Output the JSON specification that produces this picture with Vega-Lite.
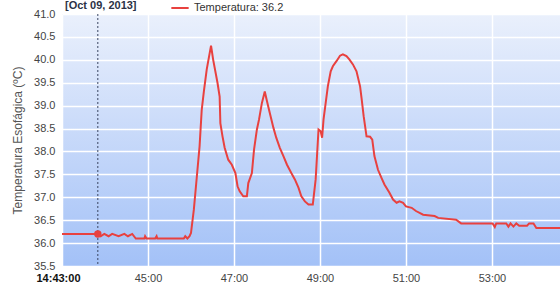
{
  "$schema": "https://vega.github.io/schema/vega-lite/v6.json",
  "width": 498,
  "height": 252,
  "autosize": "none",
  "padding": {"left": 62, "top": 14, "right": 0, "bottom": 19},
  "background": "#ffffff",
  "config": {
    "font": "Liberation Sans",
    "axis": {"labelOverlap": false, "labelBound": false, "labelFlush": false},
    "view": {
      "stroke": null,
      "fill": {"gradient": "linear", "x1": 0, "y1": 0, "x2": 0, "y2": 1,
        "stops": [{"offset": 0, "color": "#eaf0fc"}, {"offset": 1, "color": "#a3c1f7"}]}
    }
  },
  "datasets": {
    "temp": [
      {"t": "2013-10-09T14:43:00", "v": 36.2, "serie": "Temperatura"},
      {"t": "2013-10-09T14:43:50", "v": 36.2, "serie": "Temperatura"},
      {"t": "2013-10-09T14:43:54", "v": 36.15, "serie": "Temperatura"},
      {"t": "2013-10-09T14:43:59", "v": 36.2, "serie": "Temperatura"},
      {"t": "2013-10-09T14:44:05", "v": 36.15, "serie": "Temperatura"},
      {"t": "2013-10-09T14:44:10", "v": 36.2, "serie": "Temperatura"},
      {"t": "2013-10-09T14:44:19", "v": 36.15, "serie": "Temperatura"},
      {"t": "2013-10-09T14:44:27", "v": 36.2, "serie": "Temperatura"},
      {"t": "2013-10-09T14:44:32", "v": 36.15, "serie": "Temperatura"},
      {"t": "2013-10-09T14:44:38", "v": 36.2, "serie": "Temperatura"},
      {"t": "2013-10-09T14:44:43", "v": 36.1, "serie": "Temperatura"},
      {"t": "2013-10-09T14:44:55", "v": 36.1, "serie": "Temperatura"},
      {"t": "2013-10-09T14:44:56", "v": 36.15, "serie": "Temperatura"},
      {"t": "2013-10-09T14:44:58", "v": 36.1, "serie": "Temperatura"},
      {"t": "2013-10-09T14:45:10", "v": 36.1, "serie": "Temperatura"},
      {"t": "2013-10-09T14:45:12", "v": 36.15, "serie": "Temperatura"},
      {"t": "2013-10-09T14:45:13", "v": 36.1, "serie": "Temperatura"},
      {"t": "2013-10-09T14:45:50", "v": 36.1, "serie": "Temperatura"},
      {"t": "2013-10-09T14:45:52", "v": 36.15, "serie": "Temperatura"},
      {"t": "2013-10-09T14:45:55", "v": 36.1, "serie": "Temperatura"},
      {"t": "2013-10-09T14:45:58", "v": 36.15, "serie": "Temperatura"},
      {"t": "2013-10-09T14:46:00", "v": 36.22, "serie": "Temperatura"},
      {"t": "2013-10-09T14:46:04", "v": 36.73, "serie": "Temperatura"},
      {"t": "2013-10-09T14:46:08", "v": 37.42, "serie": "Temperatura"},
      {"t": "2013-10-09T14:46:12", "v": 38.11, "serie": "Temperatura"},
      {"t": "2013-10-09T14:46:15", "v": 38.91, "serie": "Temperatura"},
      {"t": "2013-10-09T14:46:18", "v": 39.31, "serie": "Temperatura"},
      {"t": "2013-10-09T14:46:22", "v": 39.79, "serie": "Temperatura"},
      {"t": "2013-10-09T14:46:28", "v": 40.31, "serie": "Temperatura"},
      {"t": "2013-10-09T14:46:31", "v": 40.0, "serie": "Temperatura"},
      {"t": "2013-10-09T14:46:37", "v": 39.5, "serie": "Temperatura"},
      {"t": "2013-10-09T14:46:40", "v": 39.2, "serie": "Temperatura"},
      {"t": "2013-10-09T14:46:41", "v": 38.62, "serie": "Temperatura"},
      {"t": "2013-10-09T14:46:44", "v": 38.33, "serie": "Temperatura"},
      {"t": "2013-10-09T14:46:47", "v": 38.08, "serie": "Temperatura"},
      {"t": "2013-10-09T14:46:52", "v": 37.82, "serie": "Temperatura"},
      {"t": "2013-10-09T14:46:57", "v": 37.71, "serie": "Temperatura"},
      {"t": "2013-10-09T14:47:02", "v": 37.53, "serie": "Temperatura"},
      {"t": "2013-10-09T14:47:05", "v": 37.24, "serie": "Temperatura"},
      {"t": "2013-10-09T14:47:08", "v": 37.13, "serie": "Temperatura"},
      {"t": "2013-10-09T14:47:13", "v": 37.02, "serie": "Temperatura"},
      {"t": "2013-10-09T14:47:18", "v": 37.02, "serie": "Temperatura"},
      {"t": "2013-10-09T14:47:20", "v": 37.31, "serie": "Temperatura"},
      {"t": "2013-10-09T14:47:25", "v": 37.53, "serie": "Temperatura"},
      {"t": "2013-10-09T14:47:28", "v": 38.04, "serie": "Temperatura"},
      {"t": "2013-10-09T14:47:32", "v": 38.48, "serie": "Temperatura"},
      {"t": "2013-10-09T14:47:35", "v": 38.7, "serie": "Temperatura"},
      {"t": "2013-10-09T14:47:39", "v": 39.06, "serie": "Temperatura"},
      {"t": "2013-10-09T14:47:43", "v": 39.31, "serie": "Temperatura"},
      {"t": "2013-10-09T14:47:46", "v": 39.1, "serie": "Temperatura"},
      {"t": "2013-10-09T14:47:50", "v": 38.84, "serie": "Temperatura"},
      {"t": "2013-10-09T14:47:55", "v": 38.52, "serie": "Temperatura"},
      {"t": "2013-10-09T14:47:59", "v": 38.3, "serie": "Temperatura"},
      {"t": "2013-10-09T14:48:04", "v": 38.08, "serie": "Temperatura"},
      {"t": "2013-10-09T14:48:09", "v": 37.9, "serie": "Temperatura"},
      {"t": "2013-10-09T14:48:14", "v": 37.71, "serie": "Temperatura"},
      {"t": "2013-10-09T14:48:20", "v": 37.53, "serie": "Temperatura"},
      {"t": "2013-10-09T14:48:25", "v": 37.39, "serie": "Temperatura"},
      {"t": "2013-10-09T14:48:30", "v": 37.21, "serie": "Temperatura"},
      {"t": "2013-10-09T14:48:34", "v": 37.02, "serie": "Temperatura"},
      {"t": "2013-10-09T14:48:39", "v": 36.91, "serie": "Temperatura"},
      {"t": "2013-10-09T14:48:44", "v": 36.84, "serie": "Temperatura"},
      {"t": "2013-10-09T14:48:50", "v": 36.84, "serie": "Temperatura"},
      {"t": "2013-10-09T14:48:54", "v": 37.39, "serie": "Temperatura"},
      {"t": "2013-10-09T14:48:58", "v": 38.48, "serie": "Temperatura"},
      {"t": "2013-10-09T14:49:01", "v": 38.44, "serie": "Temperatura"},
      {"t": "2013-10-09T14:49:03", "v": 38.3, "serie": "Temperatura"},
      {"t": "2013-10-09T14:49:05", "v": 38.7, "serie": "Temperatura"},
      {"t": "2013-10-09T14:49:08", "v": 39.06, "serie": "Temperatura"},
      {"t": "2013-10-09T14:49:11", "v": 39.42, "serie": "Temperatura"},
      {"t": "2013-10-09T14:49:15", "v": 39.75, "serie": "Temperatura"},
      {"t": "2013-10-09T14:49:18", "v": 39.86, "serie": "Temperatura"},
      {"t": "2013-10-09T14:49:23", "v": 39.97, "serie": "Temperatura"},
      {"t": "2013-10-09T14:49:28", "v": 40.09, "serie": "Temperatura"},
      {"t": "2013-10-09T14:49:32", "v": 40.12, "serie": "Temperatura"},
      {"t": "2013-10-09T14:49:37", "v": 40.08, "serie": "Temperatura"},
      {"t": "2013-10-09T14:49:41", "v": 40.01, "serie": "Temperatura"},
      {"t": "2013-10-09T14:49:46", "v": 39.9, "serie": "Temperatura"},
      {"t": "2013-10-09T14:49:51", "v": 39.75, "serie": "Temperatura"},
      {"t": "2013-10-09T14:49:56", "v": 39.42, "serie": "Temperatura"},
      {"t": "2013-10-09T14:49:58", "v": 39.17, "serie": "Temperatura"},
      {"t": "2013-10-09T14:50:01", "v": 38.77, "serie": "Temperatura"},
      {"t": "2013-10-09T14:50:05", "v": 38.33, "serie": "Temperatura"},
      {"t": "2013-10-09T14:50:10", "v": 38.32, "serie": "Temperatura"},
      {"t": "2013-10-09T14:50:13", "v": 38.26, "serie": "Temperatura"},
      {"t": "2013-10-09T14:50:16", "v": 37.9, "serie": "Temperatura"},
      {"t": "2013-10-09T14:50:21", "v": 37.6, "serie": "Temperatura"},
      {"t": "2013-10-09T14:50:26", "v": 37.42, "serie": "Temperatura"},
      {"t": "2013-10-09T14:50:30", "v": 37.28, "serie": "Temperatura"},
      {"t": "2013-10-09T14:50:37", "v": 37.1, "serie": "Temperatura"},
      {"t": "2013-10-09T14:50:42", "v": 36.95, "serie": "Temperatura"},
      {"t": "2013-10-09T14:50:47", "v": 36.88, "serie": "Temperatura"},
      {"t": "2013-10-09T14:50:51", "v": 36.91, "serie": "Temperatura"},
      {"t": "2013-10-09T14:50:56", "v": 36.88, "serie": "Temperatura"},
      {"t": "2013-10-09T14:51:00", "v": 36.8, "serie": "Temperatura"},
      {"t": "2013-10-09T14:51:08", "v": 36.77, "serie": "Temperatura"},
      {"t": "2013-10-09T14:51:14", "v": 36.7, "serie": "Temperatura"},
      {"t": "2013-10-09T14:51:24", "v": 36.62, "serie": "Temperatura"},
      {"t": "2013-10-09T14:51:40", "v": 36.59, "serie": "Temperatura"},
      {"t": "2013-10-09T14:51:45", "v": 36.55, "serie": "Temperatura"},
      {"t": "2013-10-09T14:52:10", "v": 36.51, "serie": "Temperatura"},
      {"t": "2013-10-09T14:52:17", "v": 36.43, "serie": "Temperatura"},
      {"t": "2013-10-09T14:53:01", "v": 36.43, "serie": "Temperatura"},
      {"t": "2013-10-09T14:53:04", "v": 36.35, "serie": "Temperatura"},
      {"t": "2013-10-09T14:53:06", "v": 36.43, "serie": "Temperatura"},
      {"t": "2013-10-09T14:53:20", "v": 36.43, "serie": "Temperatura"},
      {"t": "2013-10-09T14:53:23", "v": 36.36, "serie": "Temperatura"},
      {"t": "2013-10-09T14:53:26", "v": 36.43, "serie": "Temperatura"},
      {"t": "2013-10-09T14:53:30", "v": 36.36, "serie": "Temperatura"},
      {"t": "2013-10-09T14:53:34", "v": 36.43, "serie": "Temperatura"},
      {"t": "2013-10-09T14:53:38", "v": 36.38, "serie": "Temperatura"},
      {"t": "2013-10-09T14:53:49", "v": 36.38, "serie": "Temperatura"},
      {"t": "2013-10-09T14:53:52", "v": 36.43, "serie": "Temperatura"},
      {"t": "2013-10-09T14:53:58", "v": 36.43, "serie": "Temperatura"},
      {"t": "2013-10-09T14:54:02", "v": 36.33, "serie": "Temperatura"},
      {"t": "2013-10-09T14:54:35", "v": 36.33, "serie": "Temperatura"}
    ],
    "cursor": [
      {"t": "2013-10-09T14:43:50", "v": 36.2}
    ]
  },
  "encoding": {
    "x": {
      "field": "t", "type": "temporal",
      "scale": {
        "domain": [
          {"year": 2013, "month": 10, "date": 9, "hours": 14, "minutes": 43, "seconds": 0},
          {"year": 2013, "month": 10, "date": 9, "hours": 14, "minutes": 54, "seconds": 35}
        ]
      },
      "axis": {
        "title": null,
        "values": [
          {"year": 2013, "month": 10, "date": 9, "hours": 14, "minutes": 43},
          {"year": 2013, "month": 10, "date": 9, "hours": 14, "minutes": 45},
          {"year": 2013, "month": 10, "date": 9, "hours": 14, "minutes": 47},
          {"year": 2013, "month": 10, "date": 9, "hours": 14, "minutes": 49},
          {"year": 2013, "month": 10, "date": 9, "hours": 14, "minutes": 51},
          {"year": 2013, "month": 10, "date": 9, "hours": 14, "minutes": 53}
        ],
        "labelExpr": "minutes(datum.value) == 43 ? '14:43:00' : timeFormat(datum.value, '%M:%S')",
        "labelFontWeight": {"condition": {"test": "minutes(datum.value) == 43", "value": "bold"}, "value": "normal"},
        "labelColor": {"condition": {"test": "minutes(datum.value) == 43", "value": "#111111"}, "value": "#444444"},
        "labelOffset": {"condition": {"test": "minutes(datum.value) == 43", "value": -4}, "value": 0},
        "labelFontSize": 11,
        "labelPadding": 6,
        "ticks": false,
        "domain": false,
        "grid": true,
        "gridColor": "#ffffff",
        "gridWidth": 1.5,
        "gridOpacity": 1
      }
    },
    "y": {
      "field": "v", "type": "quantitative",
      "scale": {"domain": [35.5, 41.0], "nice": false, "zero": false},
      "axis": {
        "title": "Temperatura Esofágica (ºC)",
        "titleFontSize": 12,
        "titleFontWeight": "normal",
        "titleColor": "#555555",
        "titlePadding": 9,
        "values": [35.5, 36, 36.5, 37, 37.5, 38, 38.5, 39, 39.5, 40, 40.5, 41],
        "labelExpr": "format(datum.value, '.1f')",
        "labelOverlap": false,
        "labelSeparation": 0,
        "labelFontSize": 11,
        "labelColor": "#444444",
        "labelPadding": 7,
        "ticks": false,
        "domain": false,
        "grid": true,
        "gridColor": "#ffffff",
        "gridWidth": 1.5,
        "gridOpacity": 1
      }
    }
  },
  "layer": [
    {
      "data": {"name": "temp"},
      "mark": {"type": "line", "strokeWidth": 2, "clip": true, "interpolate": "linear"},
      "encoding": {
        "color": {
          "field": "serie", "type": "nominal",
          "scale": {"range": ["#e8413f"]},
          "legend": {
            "title": "[Oct 09, 2013]",
            "titleOrient": "left",
            "titleFontSize": 11,
            "titleFontWeight": "bold",
            "titleColor": "#2b3245",
            "titlePadding": 33,
            "titleBaseline": "middle",
            "orient": "none",
            "legendX": 3,
            "legendY": -16,
            "padding": 0,
            "symbolType": "stroke",
            "symbolStrokeWidth": 2,
            "symbolSize": 300,
            "labelExpr": "datum.label + ': 36.2'",
            "labelFontSize": 11,
            "labelColor": "#333333"
          }
        }
      }
    },
    {
      "data": {"name": "cursor"},
      "mark": {"type": "rule", "strokeDash": [2, 2], "color": "#3a4560", "strokeWidth": 1},
      "encoding": {
        "y": {"value": 0},
        "y2": {"value": 252}
      }
    },
    {
      "data": {"name": "cursor"},
      "mark": {"type": "point", "filled": true, "color": "#e8413f", "size": 55, "opacity": 1},
      "encoding": {}
    }
  ]
}
